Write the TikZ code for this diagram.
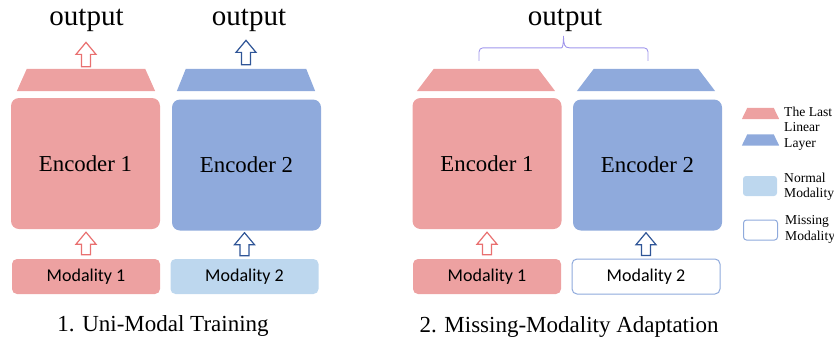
\documentclass[tikz,border=0pt]{standalone}
\usepackage{fontspec}
\setmainfont{Liberation Serif}
\newfontfamily\modfont{Carlito}
\usetikzlibrary{arrows,%
                shapes,positioning,calc}

\definecolor{encpink}{RGB}{237,161,161}
\definecolor{encblue}{RGB}{143,170,220}
\definecolor{normblue}{RGB}{189,215,238}
\definecolor{arrpink}{RGB}{233,112,112}
\definecolor{arrblue}{RGB}{47,85,151}
\definecolor{bracecol}{RGB}{160,150,236}

% hollow block arrow: #1 base, #2 tip, #3 colour
\newcommand\blockarrow[3]{%
  \draw[#3,line width=1.2pt,fill=white,line join=miter] let \p1=#1,\p2=#2 in
    (\x1-4.5pt,\y1) -- (\x1-4.5pt,\y2-12pt) -- (\x1-10pt,\y2-12pt) -- (\x1,\y2)
    -- (\x1+10pt,\y2-12pt) -- (\x1+4.5pt,\y2-12pt) -- (\x1+4.5pt,\y1) -- cycle;}
% last linear layer: #1 name, #2 position, #3 colour, #4 width, #5 height, #6 inset
\newcommand\lastlayer[6]{%
  \node[minimum width=#4,minimum height=#5,inner sep=0] (#1) at #2 {};
  \fill[#3] (#1.south west) -- ([xshift=#6]#1.north west) -- ([xshift=-#6]#1.north east)
    -- (#1.south east) -- cycle;}

\begin{document}
\begin{tikzpicture}[x=1pt,y=-1pt,
  enc/.style={rounded corners=8pt,minimum width=149pt,minimum height=131pt,inner sep=0,
    font=\fontsize{22.8}{26}\selectfont},
  modbox/.style={rounded corners=5pt,minimum width=148pt,minimum height=35pt,inner sep=0,
    font=\modfont\fontsize{18}{20}\selectfont},
  outtxt/.style={font=\fontsize{29}{32}\selectfont,inner sep=0,anchor=base},
  captxt/.style={font=\fontsize{23}{26}\selectfont,inner sep=0,anchor=base},
  legtxt/.style={font=\fontsize{13.6}{15.5}\selectfont,align=left,inner sep=0,anchor=north west}]
\useasboundingbox (0,0) rectangle (834,343);

% 1. uni-modal training
\node[enc,fill=encpink] (enc1) at (85.5,163.5) {Encoder 1};
\node[enc,fill=encblue] (enc2) at (246.5,165) {Encoder 2};
\node[modbox,fill=encpink] (mod1) at (86,276.5) {Modality 1};
\node[modbox,fill=normblue] (mod2) at (244.5,276.5) {Modality 2};
\lastlayer{lin1}{(86,80)}{encpink}{138pt}{22pt}{10pt}
\lastlayer{lin2}{(246,80)}{encblue}{138pt}{22pt}{9pt}
\node[outtxt] (out1) at (86.5,25) {output};
\node[outtxt] (out2) at (249,25) {output};
\blockarrow{([yshift=2pt]lin1.north)}{([yshift=-11pt]out1.south)}{arrpink}
\blockarrow{([yshift=4pt]lin2.north)}{([yshift=-9pt]out2.south)}{arrblue}
\blockarrow{([yshift=4pt]mod1.north)}{([yshift=-3pt]enc1.south)}{arrpink}
\blockarrow{([yshift=3pt]mod2.north)}{([yshift=-2pt]enc2.south)}{arrblue}
\node[captxt] (cap1) at (163,331) {1. Uni-Modal Training};

% 2. missing-modality adaptation
\node[enc,fill=encpink] (enc3) at (487,163.5) {Encoder 1};
\node[enc,fill=encblue] (enc4) at (647.5,165) {Encoder 2};
\node[modbox,fill=encpink] (mod3) at (487,276.5) {Modality 1};
\node[modbox,draw=encblue,line width=1pt,fill=white] (mod4) at (646,276.5) {Modality 2};
\lastlayer{lin3}{(486,80)}{encpink}{138pt}{22pt}{17pt}
\lastlayer{lin4}{(646,80)}{encblue}{138pt}{22pt}{17pt}
\node[outtxt] (out3) at (565,25) {output};
\blockarrow{([yshift=4pt]mod3.north)}{([yshift=-3pt]enc3.south)}{arrpink}
\blockarrow{([yshift=3pt]mod4.north)}{([yshift=-2pt]enc4.south)}{arrblue}
\node[captxt] (cap2) at (569,332) {2. Missing-Modality Adaptation};

% brace over both last layers
\coordinate (bl) at ([xshift=-7pt,yshift=8pt]lin3.north);
\coordinate (br) at ([xshift=2pt,yshift=8pt]lin4.north);
\coordinate (btip) at ($($(bl)!0.5!(br)$)+(0,-25)$);
\draw[bracecol,line width=0.9pt] (bl) [rounded corners=4pt] |- ($(btip)+(-6,12)$)
  [sharp corners] .. controls ($(btip)+(-1,12)$) and ($(btip)+(0,9)$) .. (btip)
  .. controls ($(btip)+(0,9)$) and ($(btip)+(1,12)$) .. ($(btip)+(6,12)$)
  [rounded corners=4pt] -| (br);

% legend
\lastlayer{leg1}{(760.5,113.5)}{encpink}{37pt}{11pt}{5.5pt}
\lastlayer{leg2}{(760.5,140)}{encblue}{37pt}{11pt}{5.5pt}
\node[rounded corners=3pt,fill=normblue,minimum width=34pt,minimum height=20pt,inner sep=0] (leg3) at (760,186) {};
\node[rounded corners=3pt,draw=encblue,line width=1pt,fill=white,minimum width=34pt,minimum height=20pt,inner sep=0] (leg4) at (760.5,230) {};
\node[legtxt] (legt1) at (784,106.7) {The Last\\Linear\\Layer};
\node[legtxt] (legt2) at (784,172.7) {Normal\\Modality};
\node[legtxt] (legt3) at (785,215.7) {Missing\\Modality};
\end{tikzpicture}
\end{document}
